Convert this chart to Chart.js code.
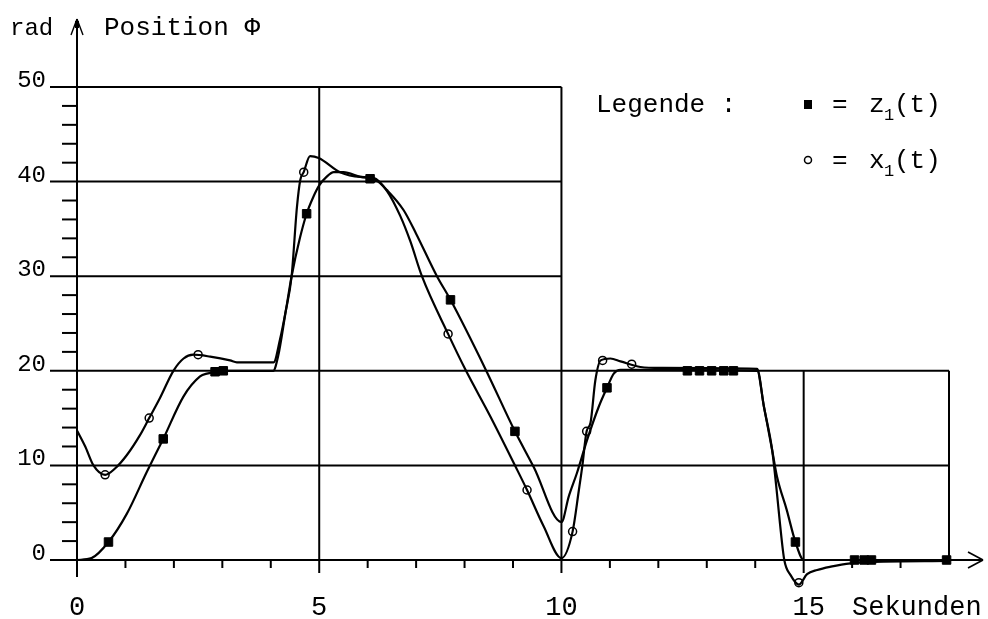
<!DOCTYPE html>
<html>
<head>
<meta charset="utf-8">
<script src="https://cdn.jsdelivr.net/npm/chart.js@4/dist/chart.umd.min.js"></script>
<style>
  html, body { margin: 0; padding: 0; background: #fff; }
  #wrap { width: 988px; height: 619px; }
  canvas { display: block; background: #fff; }
</style>
</head>
<body>
<div id="wrap"><canvas id="c" width="988" height="619"></canvas></div>
<script>
// Reference position z1(t) in rad over time in seconds
const z1Time  = [0, 0.3, 0.65, 1.03, 1.44, 1.78, 2.2, 2.54, 2.68, 3.09, 4.05, 4.15, 4.3, 4.43, 4.6, 4.74, 4.88, 5.0, 5.15, 5.3, 5.5, 5.85, 6.16, 6.4, 6.74, 7.0, 7.43, 7.71, 8.43, 9.04, 9.43, 10.0, 10.15, 10.32, 10.53, 10.77, 10.94, 11.08, 11.22, 11.6, 14.04, 14.18, 14.35, 14.45, 14.65, 14.83, 15.0, 18.0];
const z1Value = [0, 0.2, 1.9, 4.9, 9.3, 12.8, 17.3, 19.4, 19.7, 20.0, 20.0, 21.5, 26.0, 30.0, 34.0, 36.6, 38.4, 39.6, 40.5, 41.0, 41.0, 40.5, 40.2, 39.1, 37.0, 34.5, 30.0, 27.5, 20.2, 13.6, 9.8, 4.0, 6.7, 9.2, 12.7, 16.2, 18.2, 19.7, 20.1, 20.1, 20.0, 16.2, 11.6, 8.8, 5.3, 1.9, 0, 0];

// Measured position x1(t)
const x1Time  = [0, 0.17, 0.34, 0.58, 0.79, 1.03, 1.3, 1.49, 1.71, 1.99, 2.2, 2.4, 2.75, 3.16, 3.3, 4.06, 4.19, 4.3, 4.43, 4.54, 4.61, 4.68, 4.81, 4.99, 5.43, 5.85, 6.12, 6.4, 6.67, 6.88, 7.12, 7.66, 8.02, 8.53, 9.05, 9.29, 9.63, 10.0, 10.23, 10.36, 10.43, 10.52, 10.6, 10.7, 10.81, 11.01, 11.22, 11.63, 12.05, 14.04, 14.18, 14.35, 14.45, 14.51, 14.6, 14.73, 14.9, 15.07, 15.28, 15.56, 15.97, 16.45, 18.0];
const x1Value = [13.7, 12.0, 10.0, 9.0, 9.7, 11.1, 13.2, 15.0, 17.1, 20.0, 21.3, 21.7, 21.5, 21.1, 20.9, 20.9, 23.3, 26.1, 30.0, 37.3, 40.2, 41.0, 42.7, 42.5, 41.0, 40.5, 40.4, 39.0, 36.4, 33.7, 30.0, 23.9, 20.1, 15.2, 9.9, 7.4, 3.6, 0.2, 3.0, 7.4, 9.9, 13.6, 14.5, 19.0, 21.1, 21.3, 21.0, 20.4, 20.3, 20.2, 16.2, 11.6, 7.0, 3.9, 0.0, -1.6, -2.6, -1.5, -1.05, -0.7, -0.35, -0.2, -0.1];

// Marked samples on each curve
const z1MarkTime  = [0.65, 1.78, 2.85, 3.02, 4.74, 6.05, 7.71, 9.04, 10.94, 12.6, 12.85, 13.1, 13.35, 13.55, 14.83, 16.05, 16.25, 16.4, 17.95];
const z1MarkValue = [1.9, 12.8, 19.9, 20.0, 36.6, 40.3, 27.5, 13.6, 18.2, 20.0, 20.0, 20.0, 20.0, 20.0, 1.9, 0, 0, 0, 0];
const x1MarkTime  = [0.58, 1.49, 2.5, 4.68, 7.66, 9.29, 10.23, 10.52, 10.85, 11.45, 14.9];
const x1MarkValue = [9.0, 15.0, 21.7, 41.0, 23.9, 7.4, 3.0, 13.6, 21.1, 20.7, -2.4];

// Axis ticks
const xTickValues = [0, 5, 10, 15];
const xTickLabels = ['0', '5', '10', '15'];
const yTickValues = [0, 10, 20, 30, 40, 50];
const yTickLabels = ['0', '10', '20', '30', '40', '50'];

const FONT = '"Liberation Mono", "DejaVu Sans Mono", monospace';

const pts = (ts, vs) => ts.map((t, i) => ({ x: t, y: vs[i] }));

// Axes, grid, arrows and axis texts drawn under the curves
const framePlugin = {
  id: 'frame',
  beforeDraw(chart) {
    const ctx = chart.ctx;
    ctx.save();
    ctx.fillStyle = '#fff';
    ctx.fillRect(0, 0, chart.width, chart.height);
    ctx.restore();
  },
  beforeDatasetsDraw(chart) {
    const { ctx, scales: { x, y } } = chart;
    const X = v => x.getPixelForValue(v);
    const Y = v => y.getPixelForValue(v);
    const seg = (x1, y1, x2, y2) => { ctx.beginPath(); ctx.moveTo(x1, y1); ctx.lineTo(x2, y2); ctx.stroke(); };
    ctx.save();
    ctx.strokeStyle = '#000';
    ctx.lineWidth = 2;
    ctx.lineCap = 'butt';
    const left = X(0) - 27;

    // horizontal grid lines
    [10, 20].forEach(v => seg(left, Y(v), X(18), Y(v)));
    [30, 40, 50].forEach(v => seg(left, Y(v), X(10), Y(v)));
    // vertical grid lines
    [5, 10].forEach(t => seg(X(t), Y(0) + 13, X(t), Y(50)));
    seg(X(15), Y(0) + 13, X(15), Y(20));
    seg(X(18), Y(0), X(18), Y(20));

    // x axis with arrow
    const tipX = 983;
    seg(left, Y(0), tipX, Y(0));
    ctx.lineWidth = 1.6;
    seg(tipX - 15, Y(0) - 8, tipX, Y(0));
    seg(tipX - 15, Y(0) + 8, tipX, Y(0));
    ctx.lineWidth = 2;
    // y axis with arrow
    const tipY = 19;
    seg(X(0), Y(0) + 17, X(0), tipY);
    ctx.lineWidth = 1.4;
    seg(X(0) - 6, tipY + 16, X(0), tipY);
    seg(X(0) + 6, tipY + 16, X(0), tipY);
    ctx.fillStyle = '#000';
    ctx.fillRect(X(0) - 2, tipY + 2, 4, 7);
    ctx.lineWidth = 2;

    // minor ticks
    for (let v = 2; v < 50; v += 2) {
      if (v % 10 === 0) continue;
      seg(X(0) - 15, Y(v), X(0), Y(v));
    }
    for (let t = 1; t < 18; t++) {
      if (t % 5 === 0) continue;
      seg(X(t), Y(0), X(t), Y(0) + 8);
    }

    // tick labels
    ctx.fillStyle = '#000';
    ctx.textBaseline = 'alphabetic';
    ctx.font = '24px ' + FONT;
    ctx.textAlign = 'right';
    yTickValues.forEach((v, i) => ctx.fillText(yTickLabels[i], 46, Y(v)));
    ctx.font = '27px ' + FONT;
    ctx.textAlign = 'center';
    xTickValues.forEach((t, i) => ctx.fillText(xTickLabels[i], X(t) + (t === 15 ? 5 : 0), 615));
    ctx.textAlign = 'left';
    ctx.fillText('Sekunden', 852, 615);

    // axis title
    ctx.font = '24px ' + FONT;
    ctx.fillText('rad', 10, 35);
    ctx.font = '26px ' + FONT;
    ctx.fillText('Position \u03A6', 104, 35);
    ctx.restore();
  },
  afterDatasetsDraw(chart) {
    const ctx = chart.ctx;
    ctx.save();
    ctx.fillStyle = '#000';
    ctx.strokeStyle = '#000';
    ctx.textBaseline = 'alphabetic';
    ctx.textAlign = 'left';
    ctx.font = '26px ' + FONT;
    ctx.fillText('Legende :', 596, 112);
    // legend symbols
    ctx.fillRect(804, 100, 8, 9);
    ctx.lineWidth = 1.5;
    ctx.beginPath();
    ctx.arc(808, 160, 3.5, 0, Math.PI * 2);
    ctx.stroke();
    // legend entries
    const entry = (name, base) => {
      ctx.font = '26px ' + FONT;
      ctx.fillText('=', 832, base);
      ctx.fillText(name, 869, base);
      ctx.font = '17px ' + FONT;
      ctx.fillText('1', 884, base + 8);
      ctx.font = '26px ' + FONT;
      ctx.fillText('(t)', 894, base);
    };
    entry('z', 112);
    entry('x', 168);
    ctx.restore();
  }
};

new Chart(document.getElementById('c'), {
  type: 'line',
  data: {
    datasets: [
      {
        label: 'z1(t)',
        data: pts(z1Time, z1Value),
        borderColor: '#000',
        borderWidth: 2.2,
        pointRadius: 0,
        cubicInterpolationMode: 'monotone',
        clip: false
      },
      {
        label: 'x1(t)',
        data: pts(x1Time, x1Value),
        borderColor: '#000',
        borderWidth: 2.2,
        pointRadius: 0,
        cubicInterpolationMode: 'monotone',
        clip: false
      },
      {
        label: 'z1 marks',
        data: pts(z1MarkTime, z1MarkValue),
        showLine: false,
        pointStyle: 'rect',
        pointRadius: 6,
        backgroundColor: '#000',
        borderColor: '#000',
        borderWidth: 1,
        clip: false
      },
      {
        label: 'x1 marks',
        data: pts(x1MarkTime, x1MarkValue),
        showLine: false,
        pointStyle: 'circle',
        pointRadius: 4,
        backgroundColor: '#fff',
        borderColor: '#000',
        borderWidth: 1.5,
        clip: false
      }
    ]
  },
  options: {
    responsive: false,
    animation: false,
    devicePixelRatio: 1,
    layout: { padding: { left: 77, right: 39, top: 87, bottom: 30.62 } },
    scales: {
      x: { type: 'linear', min: 0, max: 18, display: false },
      y: { type: 'linear', min: -3, max: 50, display: false }
    },
    plugins: {
      legend: { display: false },
      tooltip: { enabled: false }
    }
  },
  plugins: [framePlugin]
});
</script>
</body>
</html>
